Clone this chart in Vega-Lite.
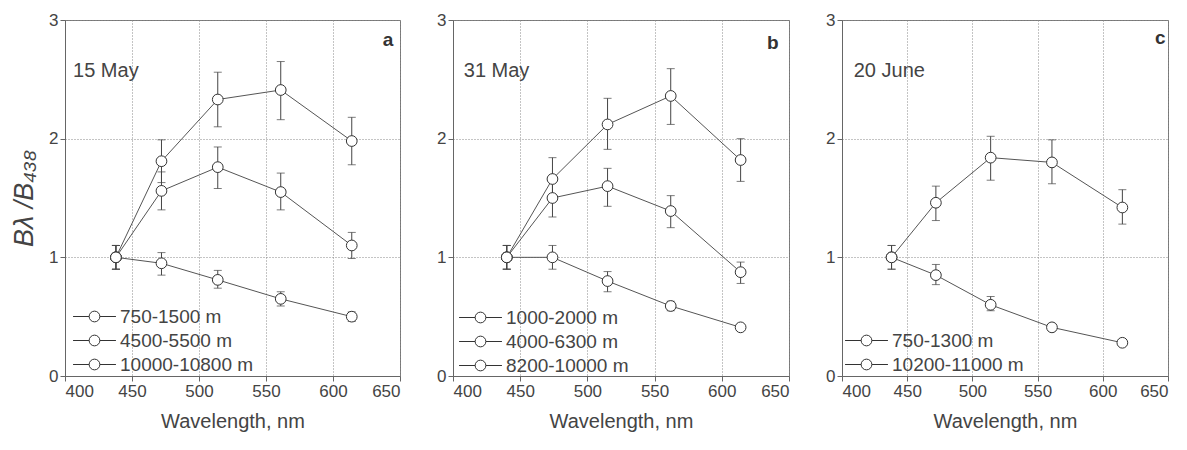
{
  "$schema": "https://vega.github.io/schema/vega-lite/v6.json",
  "padding": {"left": 10, "top": 10, "right": 5, "bottom": 5},
  "datasets": {
    "a": [
      {"series": "750-1500 m", "wl": 438, "v": 1.00, "lo": 0.90, "hi": 1.10},
      {"series": "750-1500 m", "wl": 472, "v": 1.81, "lo": 1.63, "hi": 1.99},
      {"series": "750-1500 m", "wl": 514, "v": 2.33, "lo": 2.10, "hi": 2.56},
      {"series": "750-1500 m", "wl": 561, "v": 2.41, "lo": 2.16, "hi": 2.65},
      {"series": "750-1500 m", "wl": 614, "v": 1.98, "lo": 1.78, "hi": 2.18},
      {"series": "4500-5500 m", "wl": 438, "v": 1.00, "lo": 0.90, "hi": 1.10},
      {"series": "4500-5500 m", "wl": 472, "v": 1.56, "lo": 1.40, "hi": 1.72},
      {"series": "4500-5500 m", "wl": 514, "v": 1.76, "lo": 1.58, "hi": 1.93},
      {"series": "4500-5500 m", "wl": 561, "v": 1.55, "lo": 1.40, "hi": 1.71},
      {"series": "4500-5500 m", "wl": 614, "v": 1.10, "lo": 0.99, "hi": 1.21},
      {"series": "10000-10800 m", "wl": 438, "v": 1.00, "lo": 0.90, "hi": 1.10},
      {"series": "10000-10800 m", "wl": 472, "v": 0.95, "lo": 0.85, "hi": 1.04},
      {"series": "10000-10800 m", "wl": 514, "v": 0.81, "lo": 0.74, "hi": 0.89},
      {"series": "10000-10800 m", "wl": 561, "v": 0.65, "lo": 0.59, "hi": 0.71},
      {"series": "10000-10800 m", "wl": 614, "v": 0.50, "lo": 0.46, "hi": 0.54}
    ],
    "b": [
      {"series": "1000-2000 m", "wl": 440, "v": 1.00, "lo": 0.90, "hi": 1.10},
      {"series": "1000-2000 m", "wl": 474, "v": 1.66, "lo": 1.49, "hi": 1.84},
      {"series": "1000-2000 m", "wl": 515, "v": 2.12, "lo": 1.91, "hi": 2.34},
      {"series": "1000-2000 m", "wl": 562, "v": 2.36, "lo": 2.12, "hi": 2.59},
      {"series": "1000-2000 m", "wl": 614, "v": 1.82, "lo": 1.64, "hi": 2.00},
      {"series": "4000-6300 m", "wl": 440, "v": 1.00, "lo": 0.90, "hi": 1.10},
      {"series": "4000-6300 m", "wl": 474, "v": 1.50, "lo": 1.34, "hi": 1.66},
      {"series": "4000-6300 m", "wl": 515, "v": 1.60, "lo": 1.43, "hi": 1.75},
      {"series": "4000-6300 m", "wl": 562, "v": 1.39, "lo": 1.25, "hi": 1.52},
      {"series": "4000-6300 m", "wl": 614, "v": 0.875, "lo": 0.78, "hi": 0.96},
      {"series": "8200-10000 m", "wl": 440, "v": 1.00, "lo": 0.90, "hi": 1.10},
      {"series": "8200-10000 m", "wl": 474, "v": 1.00, "lo": 0.90, "hi": 1.10},
      {"series": "8200-10000 m", "wl": 515, "v": 0.80, "lo": 0.71, "hi": 0.88},
      {"series": "8200-10000 m", "wl": 562, "v": 0.59, "lo": 0.55, "hi": 0.63},
      {"series": "8200-10000 m", "wl": 614, "v": 0.41, "lo": 0.39, "hi": 0.43}
    ],
    "c": [
      {"series": "750-1300 m", "wl": 438, "v": 1.00, "lo": 0.90, "hi": 1.10},
      {"series": "750-1300 m", "wl": 472, "v": 1.46, "lo": 1.31, "hi": 1.60},
      {"series": "750-1300 m", "wl": 514, "v": 1.84, "lo": 1.65, "hi": 2.02},
      {"series": "750-1300 m", "wl": 561, "v": 1.80, "lo": 1.62, "hi": 1.99},
      {"series": "750-1300 m", "wl": 615, "v": 1.42, "lo": 1.28, "hi": 1.57},
      {"series": "10200-11000 m", "wl": 438, "v": 1.00, "lo": 0.90, "hi": 1.10},
      {"series": "10200-11000 m", "wl": 472, "v": 0.85, "lo": 0.77, "hi": 0.94},
      {"series": "10200-11000 m", "wl": 514, "v": 0.60, "lo": 0.55, "hi": 0.67},
      {"series": "10200-11000 m", "wl": 561, "v": 0.41, "lo": 0.38, "hi": 0.44},
      {"series": "10200-11000 m", "wl": 615, "v": 0.28, "lo": 0.26, "hi": 0.30}
    ]
  },
  "config": {
    "font": "Liberation Sans",
    "view": {"stroke": "#777", "strokeWidth": 1},
    "axis": {
      "labelColor": "#444", "labelFontSize": 17, "titleColor": "#444", "titleFontWeight": "normal",
      "domainColor": "#666", "tickColor": "#666", "tickSize": 5,
      "gridColor": "#888", "gridDash": [1, 2], "gridWidth": 1
    },
    "legend": {"padding": 0}
  },
  "spacing": 35,
  "resolve": {"scale": {"stroke": "independent"}, "legend": {"stroke": "independent"}},
  "hconcat": [
    {
      "width": 335, "height": 356,
      "data": {"name": "a"},
      "layer": [
        {"mark": {"type": "rule", "color": "#444", "strokeWidth": 1},
         "encoding": {
           "x": {"field": "wl", "type": "quantitative", "scale": {"domain": [400, 650], "nice": false},
                 "axis": {"values": [400,425,450,475,500,525,550,575,600,625,650], "format": "d", "labelExpr": "datum.value % 50 === 0 ? datum.label : ''", "title": "Wavelength, nm", "titleFontSize": 20, "titlePadding": 12}},
           "y": {"field": "lo", "type": "quantitative", "scale": {"domain": [0, 3], "nice": false},
                 "axis": {"values": [0,0.5,1,1.5,2,2.5,3], "format": "d", "labelExpr": "datum.value % 1 === 0 ? datum.label : ''", "title": "Bλ /B₄₃₈", "titleFontSize": 27, "titleFontStyle": "italic", "titlePadding": 10}},
           "y2": {"field": "hi"},
           "detail": {"field": "series"}
         }},
        {"mark": {"type": "tick", "orient": "horizontal", "size": 8, "thickness": 1, "color": "#444"},
         "encoding": {"x": {"field": "wl", "type": "quantitative"}, "y": {"field": "hi", "type": "quantitative"}, "detail": {"field": "series"}}},
        {"mark": {"type": "tick", "orient": "horizontal", "size": 8, "thickness": 1, "color": "#444"},
         "encoding": {"x": {"field": "wl", "type": "quantitative"}, "y": {"field": "lo", "type": "quantitative"}, "detail": {"field": "series"}}},
        {"mark": {"type": "line", "color": "#555", "strokeWidth": 1},
         "encoding": {"x": {"field": "wl", "type": "quantitative"}, "y": {"field": "v", "type": "quantitative"}, "detail": {"field": "series"}}},
        {"mark": {"type": "point", "shape": "circle", "filled": true, "fill": "white", "size": 115, "strokeWidth": 1, "opacity": 1},
         "encoding": {
           "x": {"field": "wl", "type": "quantitative"}, "y": {"field": "v", "type": "quantitative"},
           "stroke": {"field": "series", "type": "nominal",
             "scale": {"domain": ["750-1500 m", "4500-5500 m", "10000-10800 m"], "range": ["#333", "#333", "#333"]},
             "legend": {"orient": "none", "legendX": 18, "legendY": 285, "title": null,
               "symbolType": "M-2,0H-0.5M0.5,0H2M-0.5,0A0.5,0.5,0,1,0,0.5,0A0.5,0.5,0,1,0,-0.5,0",
               "symbolSize": 460, "symbolStrokeWidth": 1, "symbolFillColor": "white", "symbolStrokeColor": "#333",
               "labelFontSize": 19, "labelColor": "#444", "labelOffset": 14, "rowPadding": 2}}
         }},
        {"data": {"values": [{"t": "15 May"}]},
         "mark": {"type": "text", "align": "left", "baseline": "middle", "fontSize": 20, "color": "#444"},
         "encoding": {"x": {"datum": 406}, "y": {"datum": 2.57}, "text": {"field": "t"}}},
        {"data": {"values": [{"t": "a"}]},
         "mark": {"type": "text", "align": "center", "baseline": "middle", "fontSize": 19, "fontWeight": "bold", "color": "#333"},
         "encoding": {"x": {"datum": 641}, "y": {"datum": 2.83}, "text": {"field": "t"}}}
      ]
    },
    {
      "width": 336, "height": 356,
      "data": {"name": "b"},
      "layer": [
        {"mark": {"type": "rule", "color": "#444", "strokeWidth": 1},
         "encoding": {
           "x": {"field": "wl", "type": "quantitative", "scale": {"domain": [400, 650], "nice": false},
                 "axis": {"values": [400,425,450,475,500,525,550,575,600,625,650], "format": "d", "labelExpr": "datum.value % 50 === 0 ? datum.label : ''", "title": "Wavelength, nm", "titleFontSize": 20, "titlePadding": 12}},
           "y": {"field": "lo", "type": "quantitative", "scale": {"domain": [0, 3], "nice": false},
                 "axis": {"values": [0,0.5,1,1.5,2,2.5,3], "format": "d", "labelExpr": "datum.value % 1 === 0 ? datum.label : ''", "title": null}},
           "y2": {"field": "hi"},
           "detail": {"field": "series"}
         }},
        {"mark": {"type": "tick", "orient": "horizontal", "size": 8, "thickness": 1, "color": "#444"},
         "encoding": {"x": {"field": "wl", "type": "quantitative"}, "y": {"field": "hi", "type": "quantitative"}, "detail": {"field": "series"}}},
        {"mark": {"type": "tick", "orient": "horizontal", "size": 8, "thickness": 1, "color": "#444"},
         "encoding": {"x": {"field": "wl", "type": "quantitative"}, "y": {"field": "lo", "type": "quantitative"}, "detail": {"field": "series"}}},
        {"mark": {"type": "line", "color": "#555", "strokeWidth": 1},
         "encoding": {"x": {"field": "wl", "type": "quantitative"}, "y": {"field": "v", "type": "quantitative"}, "detail": {"field": "series"}}},
        {"mark": {"type": "point", "shape": "circle", "filled": true, "fill": "white", "size": 115, "strokeWidth": 1, "opacity": 1},
         "encoding": {
           "x": {"field": "wl", "type": "quantitative"}, "y": {"field": "v", "type": "quantitative"},
           "stroke": {"field": "series", "type": "nominal",
             "scale": {"domain": ["1000-2000 m", "4000-6300 m", "8200-10000 m"], "range": ["#333", "#333", "#333"]},
             "legend": {"orient": "none", "legendX": 16, "legendY": 286, "title": null,
               "symbolType": "M-2,0H-0.5M0.5,0H2M-0.5,0A0.5,0.5,0,1,0,0.5,0A0.5,0.5,0,1,0,-0.5,0",
               "symbolSize": 460, "symbolStrokeWidth": 1, "symbolFillColor": "white", "symbolStrokeColor": "#333",
               "labelFontSize": 19, "labelColor": "#444", "labelOffset": 14, "rowPadding": 2}}
         }},
        {"data": {"values": [{"t": "31 May"}]},
         "mark": {"type": "text", "align": "left", "baseline": "middle", "fontSize": 20, "color": "#444"},
         "encoding": {"x": {"datum": 408}, "y": {"datum": 2.57}, "text": {"field": "t"}}},
        {"data": {"values": [{"t": "b"}]},
         "mark": {"type": "text", "align": "center", "baseline": "middle", "fontSize": 19, "fontWeight": "bold", "color": "#333"},
         "encoding": {"x": {"datum": 638}, "y": {"datum": 2.81}, "text": {"field": "t"}}}
      ]
    },
    {
      "width": 326, "height": 356,
      "data": {"name": "c"},
      "layer": [
        {"mark": {"type": "rule", "color": "#444", "strokeWidth": 1},
         "encoding": {
           "x": {"field": "wl", "type": "quantitative", "scale": {"domain": [400, 650], "nice": false},
                 "axis": {"values": [400,425,450,475,500,525,550,575,600,625,650], "format": "d", "labelExpr": "datum.value % 50 === 0 ? datum.label : ''", "title": "Wavelength, nm", "titleFontSize": 20, "titlePadding": 12}},
           "y": {"field": "lo", "type": "quantitative", "scale": {"domain": [0, 3], "nice": false},
                 "axis": {"values": [0,0.5,1,1.5,2,2.5,3], "format": "d", "labelExpr": "datum.value % 1 === 0 ? datum.label : ''", "title": null}},
           "y2": {"field": "hi"},
           "detail": {"field": "series"}
         }},
        {"mark": {"type": "tick", "orient": "horizontal", "size": 8, "thickness": 1, "color": "#444"},
         "encoding": {"x": {"field": "wl", "type": "quantitative"}, "y": {"field": "hi", "type": "quantitative"}, "detail": {"field": "series"}}},
        {"mark": {"type": "tick", "orient": "horizontal", "size": 8, "thickness": 1, "color": "#444"},
         "encoding": {"x": {"field": "wl", "type": "quantitative"}, "y": {"field": "lo", "type": "quantitative"}, "detail": {"field": "series"}}},
        {"mark": {"type": "line", "color": "#555", "strokeWidth": 1},
         "encoding": {"x": {"field": "wl", "type": "quantitative"}, "y": {"field": "v", "type": "quantitative"}, "detail": {"field": "series"}}},
        {"mark": {"type": "point", "shape": "circle", "filled": true, "fill": "white", "size": 115, "strokeWidth": 1, "opacity": 1},
         "encoding": {
           "x": {"field": "wl", "type": "quantitative"}, "y": {"field": "v", "type": "quantitative"},
           "stroke": {"field": "series", "type": "nominal",
             "scale": {"domain": ["750-1300 m", "10200-11000 m"], "range": ["#333", "#333"]},
             "legend": {"orient": "none", "legendX": 13, "legendY": 309, "title": null,
               "symbolType": "M-2,0H-0.5M0.5,0H2M-0.5,0A0.5,0.5,0,1,0,0.5,0A0.5,0.5,0,1,0,-0.5,0",
               "symbolSize": 460, "symbolStrokeWidth": 1, "symbolFillColor": "white", "symbolStrokeColor": "#333",
               "labelFontSize": 19, "labelColor": "#444", "labelOffset": 14, "rowPadding": 2}}
         }},
        {"data": {"values": [{"t": "20 June"}]},
         "mark": {"type": "text", "align": "left", "baseline": "middle", "fontSize": 20, "color": "#444"},
         "encoding": {"x": {"datum": 409}, "y": {"datum": 2.57}, "text": {"field": "t"}}},
        {"data": {"values": [{"t": "c"}]},
         "mark": {"type": "text", "align": "center", "baseline": "middle", "fontSize": 19, "fontWeight": "bold", "color": "#333"},
         "encoding": {"x": {"datum": 644}, "y": {"datum": 2.85}, "text": {"field": "t"}}}
      ]
    }
  ]
}
